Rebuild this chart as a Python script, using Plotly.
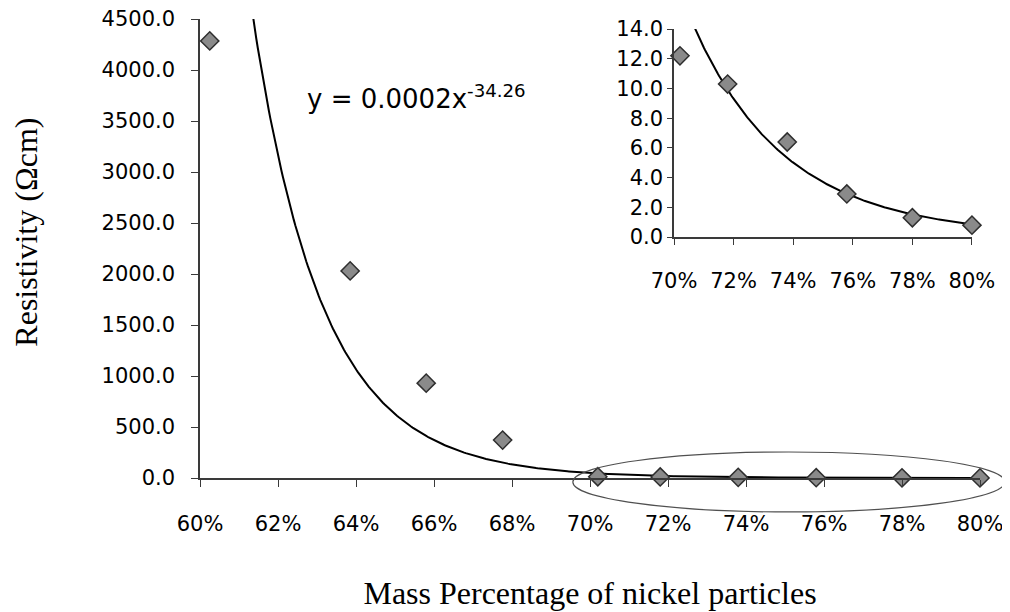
import numpy as np
import plotly.graph_objects as go

# ---------------- data ----------------
mass_fraction = [0.6025, 0.6385, 0.658, 0.6776, 0.702, 0.718, 0.738, 0.758, 0.780, 0.800]
resistivity = [4285, 2030, 930, 372, 12.2, 10.3, 6.4, 2.9, 1.3, 0.8]

inset_mass_fraction = mass_fraction[4:]
inset_resistivity = resistivity[4:]

# power-law trendlines y = a * x^b (label shows rounded coefficient)
main_trend_coef = 0.000244
main_trend_exp = -34.26
inset_trend_coef = 0.00555
inset_trend_exp = -22.6
equation_label = "y = 0.0002x<sup>-34.26</sup>"

x_title = "Mass Percentage of nickel particles"
y_title = "Resistivity (Ωcm)"

# axis ranges
main_x_range = [0.60, 0.80]
main_y_range = [0, 4500]
inset_x_range = [0.70, 0.80]
inset_y_range = [0, 14]

# highlighted region (data space of main axes)
highlight_x = [0.6956, 0.8064]
highlight_y = [-333, 255]

# ---------------- styling ----------------
tick_font = dict(family="DejaVu Sans", size=21, color="black")
eq_font = dict(family="DejaVu Sans", size=26, color="black")
title_font = dict(family="Liberation Serif", size=32, color="black")
axis_color = "#3a3a3a"
marker_style = dict(symbol="diamond", size=14, color="#8a8a8a",
                    line=dict(color="#2e2e2e", width=1.5))

fig = go.Figure()

# main trendline
tx = np.linspace(main_x_range[0], main_x_range[1], 500)
fig.add_trace(go.Scatter(x=tx, y=main_trend_coef * tx ** main_trend_exp, mode="lines",
                         line=dict(color="black", width=2), showlegend=False,
                         hoverinfo="skip", xaxis="x", yaxis="y"))
# main points
fig.add_trace(go.Scatter(x=mass_fraction, y=resistivity, mode="markers",
                         marker=marker_style, cliponaxis=False, showlegend=False,
                         xaxis="x", yaxis="y"))

# inset trendline
ix = np.linspace(inset_x_range[0], inset_x_range[1], 300)
fig.add_trace(go.Scatter(x=ix, y=inset_trend_coef * ix ** inset_trend_exp, mode="lines",
                         line=dict(color="black", width=2), showlegend=False,
                         hoverinfo="skip", xaxis="x2", yaxis="y2"))
# inset points
fig.add_trace(go.Scatter(x=inset_mass_fraction, y=inset_resistivity, mode="markers",
                         marker=marker_style, cliponaxis=False, showlegend=False,
                         xaxis="x2", yaxis="y2"))

axis_common = dict(showgrid=False, zeroline=False, showline=True, linecolor=axis_color,
                   linewidth=1.5, ticks="outside", tickcolor=axis_color, tickwidth=1.2,
                   tickfont=tick_font, automargin=False, ticklabeloverflow="allow")

# figure is 8px smaller than the window to account for the page's body margin
fig.update_layout(
    width=1002, height=604,
    margin=dict(l=192, r=30, t=11, b=134),
    paper_bgcolor="white", plot_bgcolor="white",
    xaxis=dict(range=main_x_range, tick0=0.6, dtick=0.02, tickformat=".0%",
               ticklen=7, ticklabelstandoff=19,
               title=dict(text=x_title, font=title_font, standoff=47),
               **axis_common),
    yaxis=dict(range=main_y_range, tick0=0, dtick=500, tickformat=".1f",
               ticklen=7, ticklabelstandoff=12,
               **axis_common),
    xaxis2=dict(domain=[0.6077, 0.9897], anchor="y2", range=inset_x_range, tick0=0.7,
                dtick=0.02, tickformat=".0%", ticklen=6, ticklabelstandoff=18,
                **axis_common),
    yaxis2=dict(domain=[0.525, 0.978], anchor="x2", range=inset_y_range, tick0=0,
                dtick=2, tickformat=".1f", ticklen=5, ticklabelstandoff=0,
                **axis_common),
)


def to_paper_x(v):
    return (v - main_x_range[0]) / (main_x_range[1] - main_x_range[0])


def to_paper_y(v):
    return (v - main_y_range[0]) / (main_y_range[1] - main_y_range[0])


fig.add_shape(type="circle", xref="paper", yref="paper",
              x0=to_paper_x(highlight_x[0]), x1=to_paper_x(highlight_x[1]),
              y0=to_paper_y(highlight_y[0]), y1=to_paper_y(highlight_y[1]),
              line=dict(color="#505050", width=1.2), fillcolor="rgba(0,0,0,0)")

# y-axis title (placed slightly above the plot's vertical centre, as in the reference)
fig.add_annotation(x=-0.2235, y=0.536, xref="paper", yref="paper", text=y_title,
                   textangle=-90, showarrow=False, xanchor="center", yanchor="middle",
                   font=title_font)

fig.add_annotation(x=0.627, y=3735, xref="x", yref="y", text=equation_label,
                   showarrow=False, xanchor="left", yanchor="middle", font=eq_font)

fig.write_html("out.html")
